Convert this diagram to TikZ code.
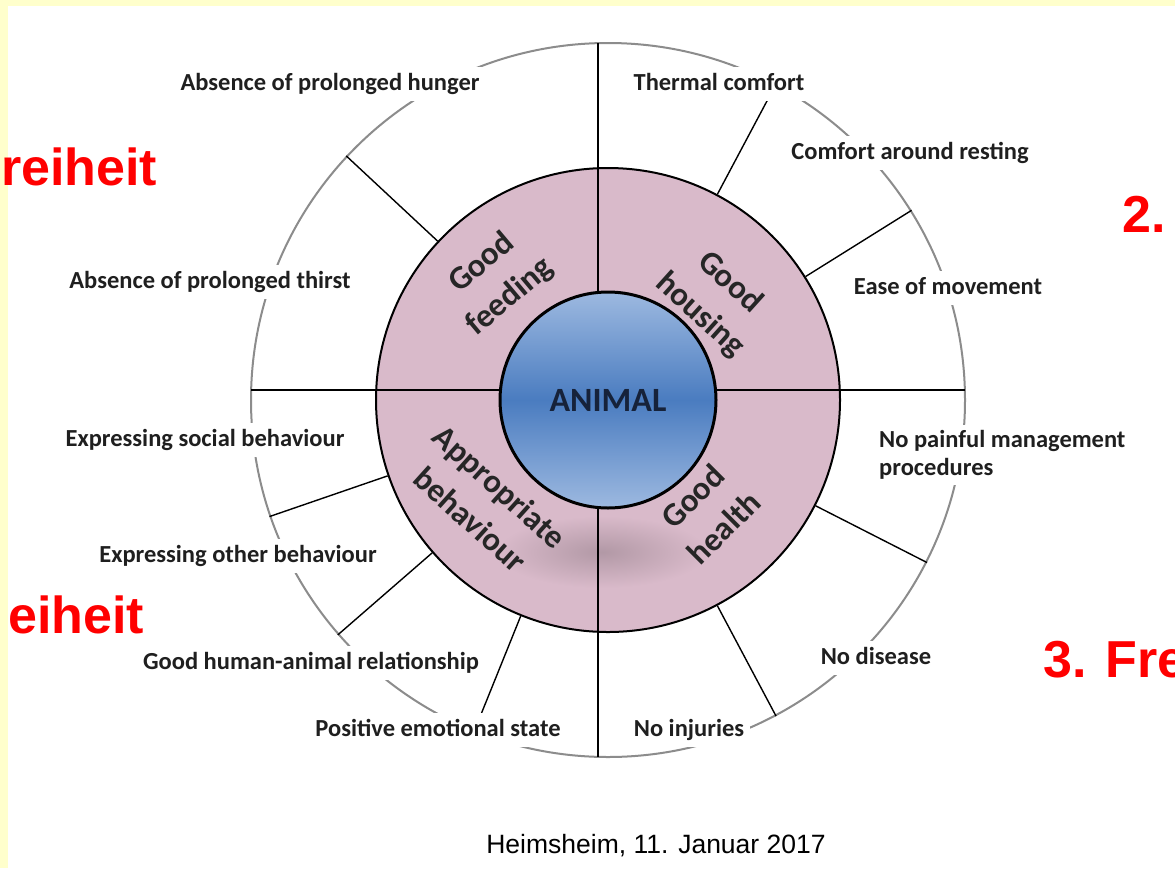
\documentclass[tikz,border=0pt]{standalone}
\usepackage{fontspec}
\setmainfont{Carlito}
\newfontfamily\arialfont{Liberation Sans}
\usetikzlibrary{calc}
\definecolor{ringpink}{HTML}{D9BACA}
\definecolor{slideyellow}{HTML}{FFFFCC}
\definecolor{animalblue}{HTML}{4A7CC0}
\definecolor{paleblue}{HTML}{9DB9E0}
\definecolor{navy}{HTML}{16223A}
\definecolor{slidered}{HTML}{FF0000}

\begin{document}
\begin{tikzpicture}[
    x=1pt, y=-1pt,
    crit/.style={font=\bfseries\fontsize{24.5}{28}\selectfont, text=black!88,
                 fill=white, inner xsep=6pt, inner ysep=5pt,
                 text height=18pt, text depth=6pt},
    principle/.style={font=\bfseries\fontsize{33}{44}\selectfont,
                      text=black!85, align=center, inner sep=0pt},
    freedom/.style={font=\arialfont\bfseries\fontsize{52}{56}\selectfont,
                    text=slidered, inner sep=0pt}]
  \useasboundingbox (0,0) rectangle (1175,868);
  % slide background
  \fill[white] (0,0) rectangle (1175,868);
  \fill[slideyellow] (0,0) rectangle (1175,6);
  \fill[slideyellow] (0,0) rectangle (8,868);
  % wheel and ring
  \node[circle, draw=black!45, line width=2pt, minimum size=714pt, inner sep=0pt] (wheel) at (608,400) {};
  \node[circle, draw=black, line width=2pt, fill=ringpink, minimum size=464pt, inner sep=0pt] (ring) at (608,400) {};
  \shade[inner color=ringpink!82!black, outer color=ringpink] (602,552) ellipse (105pt and 36pt);
  % quadrant cross
  \coordinate (n) at (598,43);  \coordinate (s) at (598,757);
  \coordinate (w) at (251,390); \coordinate (e) at (965,390);
  \draw[line width=2.5pt] (n) -- (s);
  \draw[line width=2.5pt] (w) -- (e);
  % spokes between the criteria
  \foreach \a in {137,62,32,-27,-62,199,221,248}
    \draw[line width=1.4pt] (ring.\a) -- (wheel.\a);
  % centre
  \node[circle, draw=black, line width=3pt, minimum size=216pt, inner sep=0pt,
        top color=paleblue, bottom color=paleblue, middle color=animalblue,
        font=\bfseries\fontsize{34}{40}\selectfont, text=navy] (animal) at (608,400) {ANIMAL};
  % principles
  \node[principle, rotate=40]  (feeding)   at (496,280) {Good\\feeding};
  \node[principle, rotate=-42] (housing)   at (715,299) {Good\\housing};
  \node[principle, rotate=-42] (behaviour) at (485,503) {Appropriate\\behaviour};
  \node[principle, rotate=45]  (health)    at (708,512) {Good\\health};
  % criteria
  \node[crit] (hunger)    at (330,84)  {Absence of prolonged hunger};
  \node[crit] (thirst)    at (210,282) {Absence of prolonged thirst};
  \node[crit] (thermal)   at (719,84)  {Thermal comfort};
  \node[crit] (resting)   at (910,153) {Comfort around resting};
  \node[crit] (movement)  at (948,288) {Ease of movement};
  \node[crit, text height=, text depth=, align=left, anchor=west] (painful) at (873,455)
       {No painful management\\procedures};
  \node[crit] (disease)   at (876,658) {No disease};
  \node[crit] (injuries)  at (689,730) {No injuries};
  \node[crit] (emotional) at (438,730) {Positive emotional state};
  \node[crit] (human)     at (311,663) {Good human-animal relationship};
  \node[crit] (other)     at (238,556) {Expressing other behaviour};
  \node[crit] (social)    at (205,440) {Expressing social behaviour};
  % slide texts
  \node[freedom, anchor=base west] (frei1) at (1,185)    {reiheit};
  \node[freedom, anchor=base west] (frei2) at (8,633)    {eiheit};
  \node[freedom, anchor=base west] (frei3) at (1122,232) {2.};
  \node[freedom, anchor=base west] (frei4) at (1043,677) {3. Fre};
  \node[font=\arialfont\fontsize{26.5}{30}\selectfont, anchor=base] (date) at (656,853)
       {Heimsheim, 11. Januar 2017};
\end{tikzpicture}
\end{document}
